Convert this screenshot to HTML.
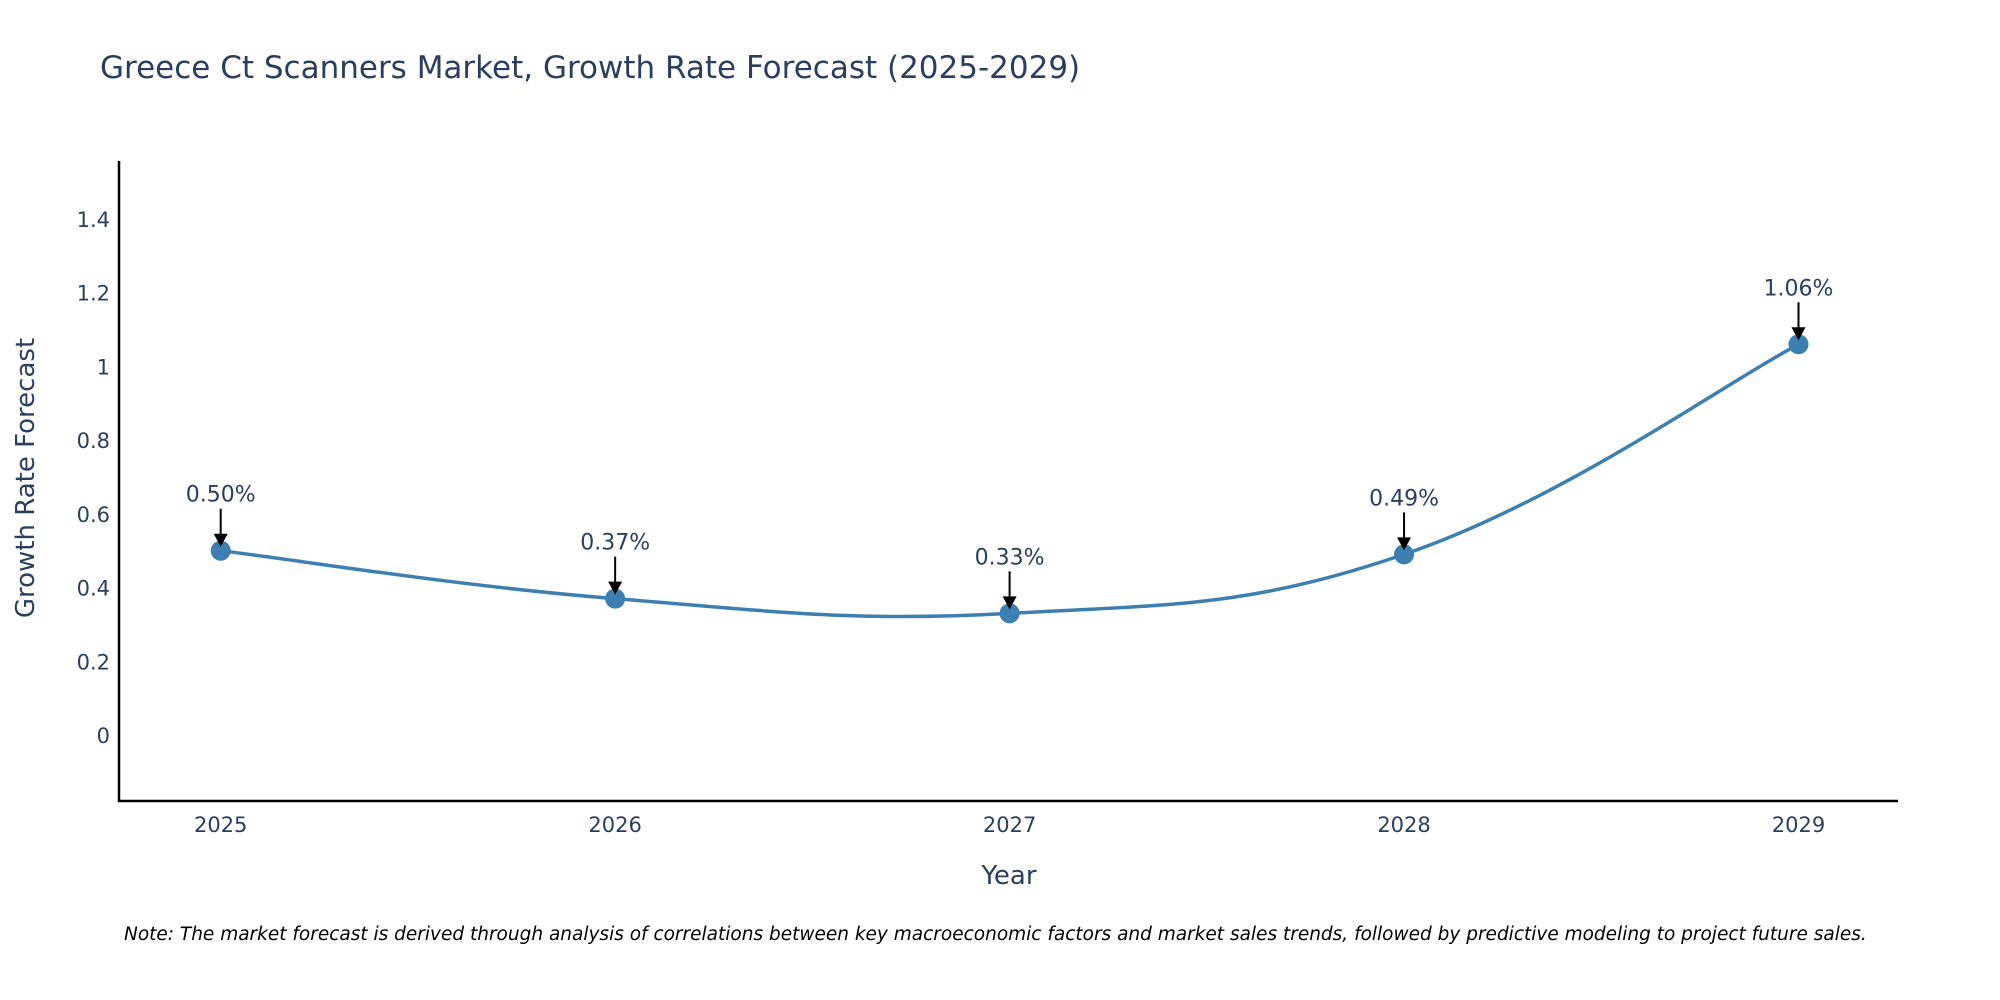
<!DOCTYPE html>
<html><head><meta charset="utf-8">
<style>
html,body{margin:0;padding:0;background:#fff;}
svg{display:block;font-family:"DejaVu Sans","Liberation Sans",sans-serif;}
</style></head>
<body>
<svg id="chart" width="2000" height="1000" viewBox="0 0 2000 1000" xmlns="http://www.w3.org/2000/svg">
<text x="100" y="78" font-size="31" fill="#2a3f5f">Greece Ct Scanners Market, Growth Rate Forecast (2025-2029)</text>
<g id="yticks"></g>
<g id="xticks"></g>
<line x1="119" y1="161" x2="119" y2="802" stroke="#000" stroke-width="2.5"/>
<line x1="118" y1="801" x2="1898" y2="801" stroke="#000" stroke-width="2.5"/>
<path id="line" fill="none" stroke="#3d7fb0" stroke-width="3.5"/>
<g id="marks"></g>
<g id="ann"></g>
<text transform="translate(34,478) rotate(-90)" text-anchor="middle" font-size="26" fill="#2a3f5f">Growth Rate Forecast</text>
<text x="1009" y="884" text-anchor="middle" font-size="26" fill="#2a3f5f">Year</text>
<text x="124" y="940" font-size="18.5" font-style="italic" fill="#000">Note: The market forecast is derived through analysis of correlations between key macroeconomic factors and market sales trends, followed by predictive modeling to project future sales.</text>
</svg>
<script>
const years = [2025, 2026, 2027, 2028, 2029];
const values = [0.50, 0.37, 0.33, 0.49, 1.06];
const labels = ["0.50%", "0.37%", "0.33%", "0.49%", "1.06%"];
const yTicks = [0, 0.2, 0.4, 0.6, 0.8, 1, 1.2, 1.4];
const yTickLabels = ["0", "0.2", "0.4", "0.6", "0.8", "1", "1.2", "1.4"];

const NS = "http://www.w3.org/2000/svg";
function xs(yr){ return 220.7 + (yr - 2025) * 394.45; }
function ys(v){ return 735 - v * 368.6; }
function mk(tag, attrs, parent){ const e=document.createElementNS(NS,tag); for(const k in attrs) e.setAttribute(k,attrs[k]); parent.appendChild(e); return e; }

const yg=document.getElementById('yticks');
yTicks.forEach((t,i)=>{
  const e=mk('text',{x:110,y:ys(t)+8,'text-anchor':'end','font-size':21,fill:'#2a3f5f'},yg);
  
  
  e.textContent=yTickLabels[i];
});
const xg=document.getElementById('xticks');
years.forEach(y=>{
  const e=mk('text',{x:xs(y),y:832,'text-anchor':'middle','font-size':21,fill:'#2a3f5f'},xg);
  
  
  e.textContent=String(y);
});

const pts=years.map((y,i)=>[xs(y),ys(values[i])]);
let d='M'+pts[0][0]+','+pts[0][1];
const s=0.6/3;
for(let i=0;i<pts.length-1;i++){
  const p0=pts[Math.max(i-1,0)],p1=pts[i],p2=pts[i+1],p3=pts[Math.min(i+2,pts.length-1)];
  const c1=[p1[0]+(p2[0]-p0[0])*s,p1[1]+(p2[1]-p0[1])*s];
  const c2=[p2[0]-(p3[0]-p1[0])*s,p2[1]-(p3[1]-p1[1])*s];
  d+=' C'+c1[0]+','+c1[1]+' '+c2[0]+','+c2[1]+' '+p2[0]+','+p2[1];
}
document.getElementById('line').setAttribute('d',d);

const mg=document.getElementById('marks');
const ag=document.getElementById('ann');
pts.forEach((p,i)=>{
  const c=mk('circle',{cx:p[0],cy:p[1],r:10,fill:'#3d7fb0'},mg);
  
  
  const l=mk('line',{x1:p[0],y1:p[1]-42,x2:p[0],y2:p[1]-16,stroke:'#000','stroke-width':2},ag);
  
  
  const h=mk('polygon',{points:(p[0]-7)+','+(p[1]-17)+' '+(p[0]+7)+','+(p[1]-17)+' '+p[0]+','+(p[1]-4),fill:'#000'},ag);
  
  
  const t=mk('text',{x:p[0],y:p[1]-49,'text-anchor':'middle','font-size':22,fill:'#2a3f5f'},ag);
  
  
  t.textContent=labels[i];
});
</script>
</body></html>
